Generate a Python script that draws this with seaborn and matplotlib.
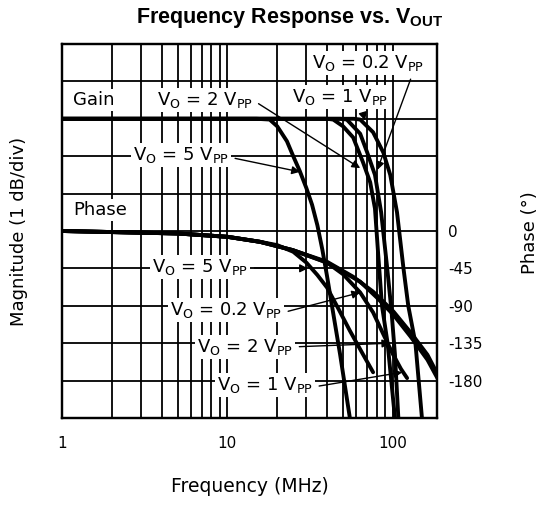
import numpy as np
import pandas as pd
import seaborn as sns
import matplotlib.pyplot as plt
from matplotlib.ticker import FixedLocator, LogLocator, NullFormatter

# gain curves (dB)
f_gain_5 = [1, 10, 15, 18, 20, 22.9, 25, 27.4, 30, 32.5, 35, 37.5, 40, 44, 48, 52, 55, 58]
gain_5 = [0, 0, 0, -0.02, -0.2, -0.6, -1.0, -1.4, -1.85, -2.3, -2.85, -3.5, -4.2, -5.3, -6.3, -7.3, -8.0, -8.8]
f_gain_2 = [1, 10, 40, 43.6, 50, 57.6, 66, 73, 78, 81.5, 86, 93, 103, 106]
gain_2 = [0, 0, 0, -0.02, -0.2, -0.5, -1.16, -1.7, -2.4, -3.6, -5.0, -6.0, -8.0, -8.6]
f_gain_1 = [1, 10, 48, 52.7, 63.5, 70, 78, 85, 92, 98, 103, 108, 111]
gain_1 = [0, 0, 0, -0.02, -0.4, -0.9, -1.5, -2.5, -3.9, -5.1, -6.3, -8.0, -8.8]
f_gain_02 = [1, 10, 58, 63.5, 76, 87.6, 96.5, 106, 116, 124, 137, 150, 155]
gain_02 = [0, 0, 0, -0.02, -0.36, -0.9, -1.5, -2.5, -4.0, -5.0, -6.0, -8.0, -8.7]

# phase curves (degrees)
f_ph_5 = [1, 5, 10, 15.7, 20, 25, 30, 35, 40, 47, 55, 65, 76]
ph_5 = [0, -3, -7, -13, -17, -25, -38, -53, -68, -94, -120, -146, -170]
f_ph_2 = [1, 5, 10, 15.7, 24.8, 40, 57.5, 76, 101, 128, 162, 186]
ph_2 = [0, -3, -7, -13, -23, -37, -55, -73, -97, -122, -149, -172]
f_ph_02 = [1, 5, 10, 15.7, 24.8, 40, 63.5, 80, 101, 128, 162, 186]
ph_02 = [0, -3, -7, -13, -23, -38, -61, -80, -101, -127, -155, -177]
f_ph_1 = [1, 5, 10, 15.7, 24.8, 40, 50, 63.5, 76, 88, 100, 112, 122]
ph_1 = [0, -3, -7, -13, -23, -38, -52, -74, -98, -125, -148, -166, -177]

phase_ticks = [0, -45, -90, -135, -180]
phase_ticklabels = ["0", "-45", "-90", "-135", "-180"]

sns.set_style("white")
plt.rcParams["font.family"] = ["DejaVu Sans"]
plt.rcParams["text.color"] = "k"
plt.rcParams["axes.labelcolor"] = "k"
plt.rcParams["xtick.color"] = "k"
plt.rcParams["ytick.color"] = "k"

gain = pd.concat([
    pd.DataFrame({"f": f_gain_5, "v": gain_5, "vout": "5"}),
    pd.DataFrame({"f": f_gain_2, "v": gain_2, "vout": "2"}),
    pd.DataFrame({"f": f_gain_1, "v": gain_1, "vout": "1"}),
    pd.DataFrame({"f": f_gain_02, "v": gain_02, "vout": "0.2"}),
])
phase = pd.concat([
    pd.DataFrame({"f": f_ph_5, "v": ph_5, "vout": "5"}),
    pd.DataFrame({"f": f_ph_2, "v": ph_2, "vout": "2"}),
    pd.DataFrame({"f": f_ph_02, "v": ph_02, "vout": "0.2"}),
    pd.DataFrame({"f": f_ph_1, "v": ph_1, "vout": "1"}),
])
black = {"5": "k", "2": "k", "1": "k", "0.2": "k"}

fig = plt.figure(figsize=(5.43, 5.08), dpi=100)
ax = fig.add_axes([0.1142, 0.1772, 0.6906, 0.7362])
ax.set_xscale("log")
ax2 = ax.twinx()

sns.lineplot(data=gain, x="f", y="v", hue="vout", palette=black, legend=False,
             lw=2.8, ax=ax, sort=False, estimator=None)
sns.lineplot(data=phase, x="f", y="v", hue="vout", palette=black, legend=False,
             lw=2.8, ax=ax2, sort=False, estimator=None)

ax.set_xlim(1, 185)
ax.set_ylim(-8, 2)
ax2.set_ylim(-225, 225)

ax.xaxis.set_major_locator(FixedLocator([1, 10, 100]))
ax.xaxis.set_minor_locator(LogLocator(base=10, subs=np.arange(2, 10)))
ax.xaxis.set_minor_formatter(NullFormatter())
ax.set_xticklabels(["1", "10", "100"])
ax.set_yticks(np.arange(-8, 3, 1))
ax.set_yticklabels([])
ax.grid(which="both", color="k", lw=1.3)
ax.tick_params(which="both", length=0)
ax.tick_params(axis="x", pad=13, labelsize=11)

ax2.set_yticks(phase_ticks)
ax2.set_yticklabels(phase_ticklabels)
ax2.tick_params(length=0, pad=8, labelsize=11)
for a in (ax, ax2):
    for s in a.spines.values():
        s.set_color("k")
        s.set_linewidth(1.6)

ax.set_xlabel("Frequency (MHz)", fontsize=13.5, labelpad=19)
ax.set_ylabel("")
ax2.set_ylabel("")
fig.text(0.035, 0.545, "Magnitude (1 dB/div)", rotation=90, ha="center", va="center", fontsize=13)
fig.text(0.976, 0.543, "Phase (\u00b0)", rotation=90, ha="center", va="center", fontsize=13)

fig.text(0.534, 0.965, r"Frequency Response vs. V$_\mathregular{OUT}$",
         ha="center", va="center", fontsize=15.5, fontweight="bold",
         family="Liberation Sans")

box = dict(boxstyle="square,pad=0.12", fc="white", ec="none")
fs = 13


def lab(s, xy, ha="center"):
    ax2.text(xy[0], xy[1], s, transform=ax2.transAxes, ha=ha, va="center",
             fontsize=fs, bbox=box, zorder=5)


def arrow(s, xytext, target, axis, relpos):
    ax2.annotate(s, xy=target, xycoords=axis.transData, xytext=xytext,
                 textcoords="axes fraction", ha="center", va="center",
                 fontsize=fs, bbox=box, zorder=5,
                 arrowprops=dict(arrowstyle="-|>", color="k", lw=1.0,
                                 mutation_scale=12, shrinkA=3, shrinkB=0,
                                 relpos=relpos))


def vo(v):
    return r"V$_\mathregular{O}$ = " + v + r" V$_\mathregular{PP}$"


lab("Gain", (0.029, 0.850), ha="left")
lab("Phase", (0.029, 0.556), ha="left")

arrow(vo("2"), (0.381, 0.850), (63.5, -1.32), ax, (1.0, 0.5))
arrow(vo("5"), (0.317, 0.703), (27.5, -1.42), ax, (1.0, 0.4))
arrow(vo("0.2"), (0.816, 0.949), (80.5, -1.37), ax, (0.9, 0.0))
arrow(vo("1"), (0.741, 0.858), (68, -0.05), ax, (0.72, 0.0))

arrow(vo("5"), (0.368, 0.404), (30.7, -45), ax2, (1.0, 0.45))
arrow(vo("0.2"), (0.437, 0.289), (63.5, -74), ax2, (1.0, 0.35))
arrow(vo("2"), (0.488, 0.190), (96.5, -135), ax2, (1.0, 0.5))
arrow(vo("1"), (0.541, 0.088), (114, -170), ax2, (1.0, 0.4))

fig.savefig("out.png", dpi=100)
